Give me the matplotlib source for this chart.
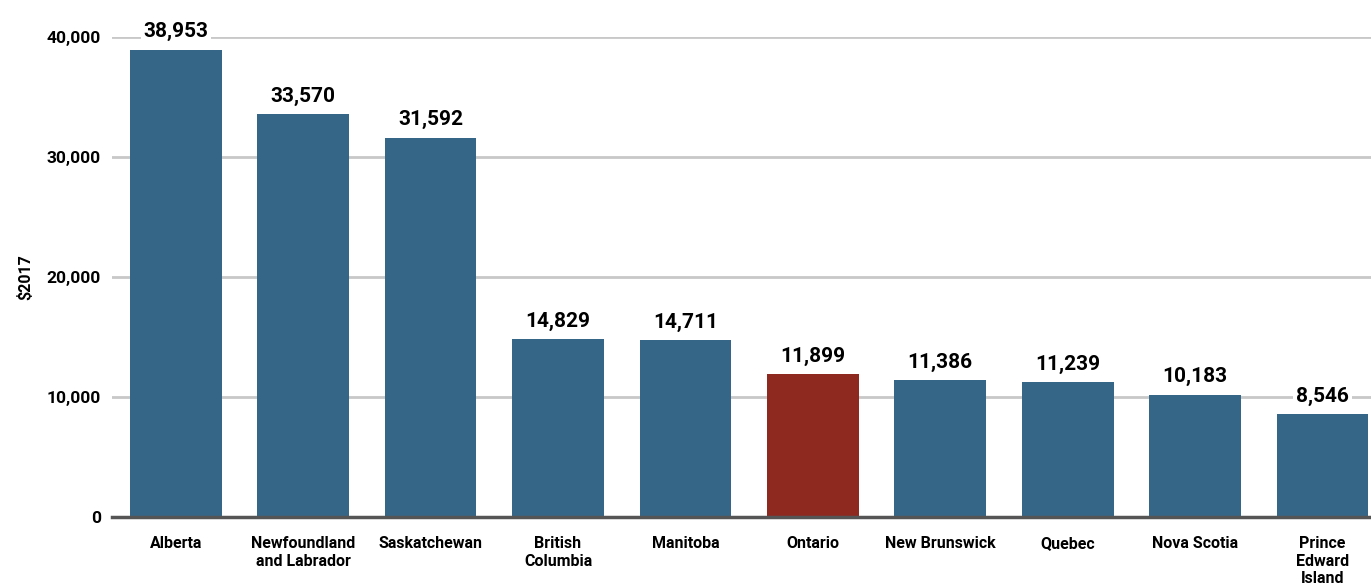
import matplotlib
matplotlib.use("Agg")
import matplotlib.pyplot as plt

provinces = ["Alberta", "Newfoundland\nand Labrador", "Saskatchewan", "British\nColumbia",
             "Manitoba", "Ontario", "New Brunswick", "Quebec", "Nova Scotia",
             "Prince\nEdward\nIsland"]
values = [38953, 33570, 31592, 14829, 14711, 11899, 11386, 11239, 10183, 8546]
highlight = "Ontario"
yticks = [0, 10000, 20000, 30000, 40000]

blue = "#356688"
red = "#8e2920"

plt.rcParams['font.family'] = ['Roboto', 'DejaVu Sans']

fig = plt.figure(figsize=(13.71, 5.88), dpi=100)
ax = fig.add_axes([112/1371, (588-517)/588, 1 - 112/1371, (517-37)/588])

colors = [red if p == highlight else blue for p in provinces]
x = list(range(len(provinces)))
ax.bar(x, values, width=0.72, color=colors, zorder=3)

ax.set_ylim(0, 40000)
ax.set_xlim(-0.5, 9.38)
ax.set_yticks(yticks)
ax.set_yticklabels([f"{v:,}" for v in yticks], fontsize=12.5, fontweight='bold')
ax.yaxis.grid(True, color="#c8c8c8", linewidth=2, zorder=0)
ax.set_axisbelow(True)
for s in ["top", "right", "left"]:
    ax.spines[s].set_visible(False)
ax.spines["bottom"].set_color("#555555")
ax.spines["bottom"].set_linewidth(2.5)
ax.spines["bottom"].set_zorder(4)
ax.tick_params(axis='y', length=0, pad=8)
ax.tick_params(axis='x', length=0, pad=14)
ax.set_xticks(x)
ax.set_xticklabels(provinces, fontsize=11.5, fontweight='bold', va='top', linespacing=1.2)
ax.set_ylabel("$2017", fontsize=11.5, fontweight='bold', labelpad=10)

for xi, v in zip(x, values):
    ax.text(xi, v + 700, f"{v:,}", ha='center', va='bottom', fontsize=15,
            fontweight='bold', zorder=5, clip_on=False,
            bbox=dict(facecolor='white', edgecolor='none', pad=2))

fig.savefig("out.png", dpi=100)
